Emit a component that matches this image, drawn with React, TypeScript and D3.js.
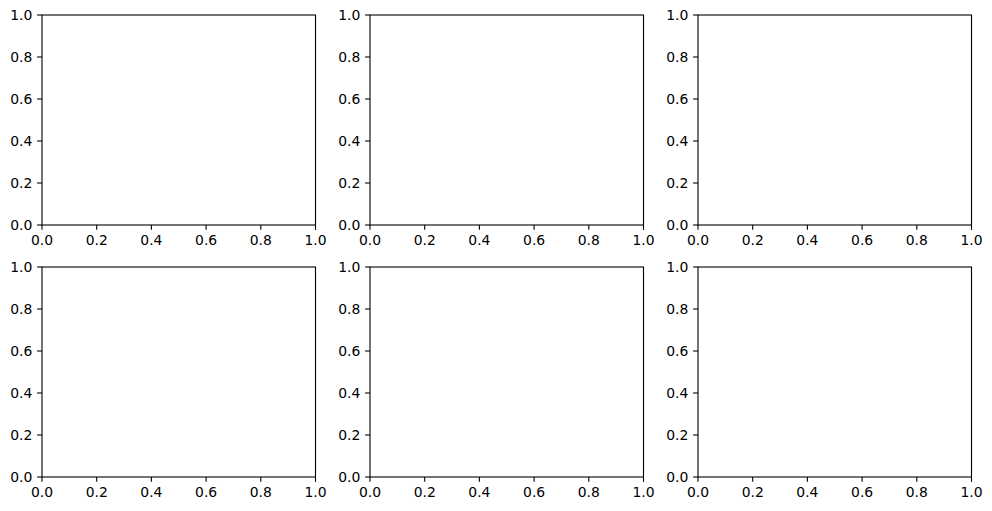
import React from "react";
import * as d3 from "d3";

const xTicks = [0, 0.2, 0.4, 0.6, 0.8, 1.0];
const yTicks = [0, 0.2, 0.4, 0.6, 0.8, 1.0];
const colLefts = [42, 370, 698];
const rowTops = [15, 267];
const axW = 273.5;
const axH = 210;

function Panel({ left, top }: { left: number; top: number }) {
  const x = d3.scaleLinear().domain([0, 1]).range([left, left + axW]);
  const y = d3.scaleLinear().domain([0, 1]).range([top + axH, top]);
  const tl = 4.86;
  const pad = 4.86;
  return (
    <g>
      <rect x={x(0)} y={y(1)} width={axW} height={axH} fill="none" stroke="#000" strokeWidth={1.1} />
      {xTicks.map((t) => (
        <g key={"x" + t}>
          <line x1={x(t)} x2={x(t)} y1={y(0)} y2={y(0) + tl} stroke="#000" strokeWidth={1.1} />
          <text x={x(t)} y={y(0) + tl + pad} dy="0.76em" textAnchor="middle" fontSize={13.9} fontFamily="DejaVu Sans" fill="#000">
            {t.toFixed(1)}
          </text>
        </g>
      ))}
      {yTicks.map((t) => (
        <g key={"y" + t}>
          <line x1={x(0) - tl} x2={x(0)} y1={y(t)} y2={y(t)} stroke="#000" strokeWidth={1.1} />
          <text x={x(0) - tl - pad} y={y(t)} dy="0.36em" textAnchor="end" fontSize={13.9} fontFamily="DejaVu Sans" fill="#000">
            {t.toFixed(1)}
          </text>
        </g>
      ))}
    </g>
  );
}

export default function App() {
  return (
    <svg width={992} height={511} style={{ position: "absolute", left: 0, top: 0, background: "#fff" }}>
      <rect width={992} height={511} fill="#fff" />
      {rowTops.map((t) =>
        colLefts.map((l) => <Panel key={l + "-" + t} left={l} top={t} />)
      )}
    </svg>
  );
}
